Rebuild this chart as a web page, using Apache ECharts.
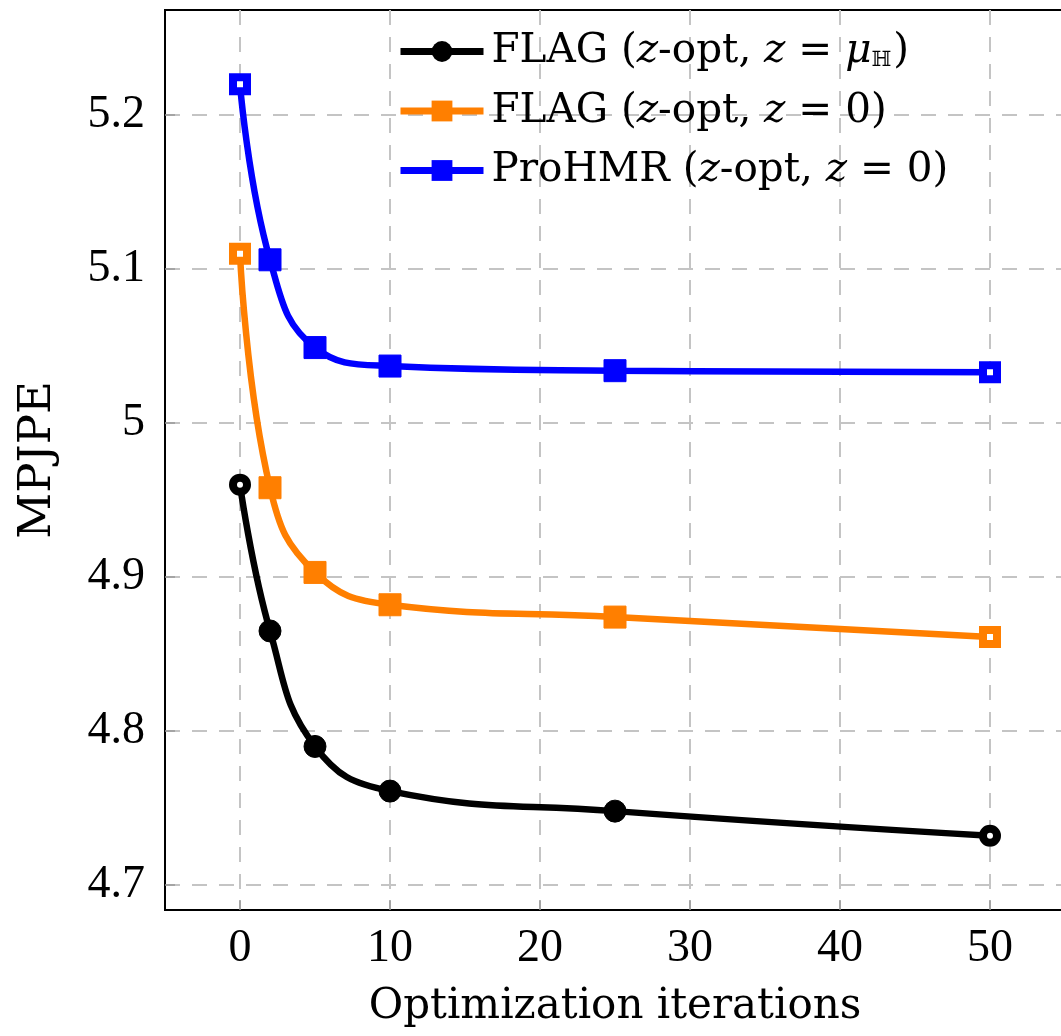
<!DOCTYPE html>
<html>
<head>
<meta charset="utf-8">
<script src="https://cdn.jsdelivr.net/npm/echarts@6/dist/echarts.min.js"></script>
<style>
  html, body { margin: 0; padding: 0; background: #fff; }
  #myChart { width: 1061px; height: 1036px; }
</style>
</head>
<body>
<div id="myChart"></div>
<script>
// data
var iterations = [0, 2, 5, 10, 25, 50]
var flagMu = [4.96, 4.865, 4.79, 4.761, 4.748, 4.732]
var flagZero = [5.11, 4.958, 4.903, 4.882, 4.874, 4.861]
var proHMR = [5.22, 5.106, 5.049, 5.037, 5.034, 5.033]
var xTicks = [0, 10, 20, 30, 40, 50]
var yTicks = [4.7, 4.8, 4.9, 5, 5.1, 5.2]

var serif = 'Liberation Serif'
var wide = 'DejaVu Serif'

function points (values, color) {
  // first and last marks look hollow in the original
  return iterations.map(function (x, i) {
    var item = { value: [x, values[i]] }
    if (i === 0 || i === iterations.length - 1) {
      item.symbolSize = 14
      item.itemStyle = { color: '#fff', borderColor: color, borderWidth: 8 }
    }
    return item
  })
}

function makeSeries (name, values, color, symbol) {
  return {
    name: name,
    type: 'line',
    smooth: 0.45,
    symbol: symbol,
    symbolSize: 22,
    showAllSymbol: true,
    lineStyle: { color: color, width: 6.5 },
    itemStyle: { color: color, borderColor: color },
    emphasis: { disabled: true },
    data: points(values, color)
  }
}

var myChart = echarts.init(document.getElementById('myChart'), null, { renderer: 'canvas' })
myChart.setOption({
  animation: false,
  textStyle: { fontFamily: serif, color: '#000' },
  grid: {
    left: 165,
    top: 10,
    right: -4,
    bottom: 126,
    show: true,
    borderColor: '#000',
    borderWidth: 2,
    containLabel: false,
    outerBoundsMode: 'none'
  },
  legend: {
    orient: 'vertical',
    left: 392,
    top: 26,
    itemWidth: 83,
    itemHeight: 26,
    itemGap: 18.5,
    lineStyle: { width: 7 },
    textStyle: {
      fontFamily: wide,
      fontSize: 40.5,
      color: '#000',
      padding: [0, 0, 0, 3],
      rich: {
        t: { fontFamily: wide, fontSize: 40.5, lineHeight: 46, color: '#000' },
        i: { fontFamily: wide, fontSize: 40.5, lineHeight: 46, fontStyle: 'italic', color: '#000' },
        s: { fontFamily: wide, fontSize: 21, color: '#000', padding: [18, 2, 0, 0] }
      }
    },
    formatter: function (name) {
      if (name === 'FLAG (z-opt, z = μH)') {
        return '{t|FLAG (}{i|z}{t|-opt, }{i|z}{t| = }{i|μ}{s|ℍ}{t|)}'
      }
      if (name === 'FLAG (z-opt, z = 0)') {
        return '{t|FLAG (}{i|z}{t|-opt, }{i|z}{t| = 0)}'
      }
      return '{t|ProHMR (}{i|z}{t|-opt, }{i|z}{t| = 0)}'
    },
    data: ['FLAG (z-opt, z = μH)', 'FLAG (z-opt, z = 0)', 'ProHMR (z-opt, z = 0)']
  },
  xAxis: {
    type: 'value',
    min: -5,
    max: 55,
    name: 'Optimization iterations',
    nameLocation: 'middle',
    nameGap: 76,
    nameTextStyle: { fontFamily: wide, fontSize: 42, color: '#000' },
    axisLine: { lineStyle: { color: '#000', width: 2 } },
    axisTick: { inside: true, length: 10, customValues: xTicks, lineStyle: { color: '#999', width: 1.5 } },
    axisLabel: { customValues: xTicks, margin: 16, fontFamily: serif, fontSize: 46, color: '#000' },
    splitLine: { show: true, lineStyle: { color: '#c4c4c4', width: 2, type: [15, 12] } }
  },
  yAxis: {
    type: 'value',
    min: 4.6838,
    max: 5.2682,
    name: 'MPJPE',
    nameLocation: 'middle',
    nameGap: 104,
    nameTextStyle: { fontFamily: wide, fontSize: 45, color: '#000' },
    axisLine: { show: true, onZero: false, lineStyle: { color: '#000', width: 2 } },
    axisTick: { show: true, inside: true, length: 10, customValues: yTicks, lineStyle: { color: '#999', width: 1.5 } },
    axisLabel: {
      customValues: yTicks,
      margin: 20,
      fontFamily: serif,
      fontSize: 46,
      color: '#000',
      formatter: function (v) { return String(Math.round(v * 10) / 10) }
    },
    splitLine: { show: true, lineStyle: { color: '#c4c4c4', width: 2, type: [15, 12] } }
  },
  series: [
    makeSeries('FLAG (z-opt, z = μH)', flagMu, '#000000', 'circle'),
    makeSeries('FLAG (z-opt, z = 0)', flagZero, '#ff7f00', 'rect'),
    makeSeries('ProHMR (z-opt, z = 0)', proHMR, '#0000ff', 'rect')
  ]
})
</script>
</body>
</html>
